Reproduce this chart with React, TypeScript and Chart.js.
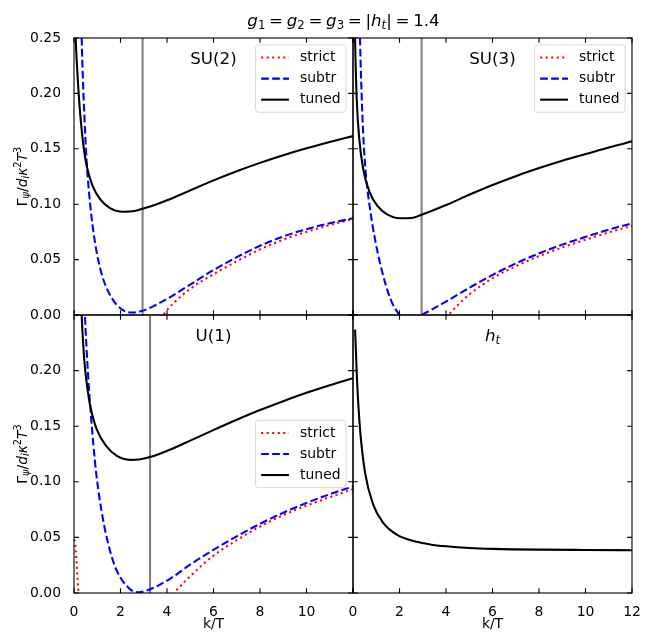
import React, { useEffect, useRef } from "react";
import { Chart, registerables } from "chart.js";
Chart.register(...registerables);

const W = 650;
const H = 641;
const FONT = '"DejaVu Sans", sans-serif';
const FS = 13.9;
const LW = 2.08;
const TICK_LEN = 4.86;
const DOT = [2.08, 3.44];
const DASH = [7.7, 3.3];

const xTicks = [0, 2, 4, 6, 8, 10, 12];
const yTicks = [0, 0.05, 0.1, 0.15, 0.2, 0.25];

// ---- SU(2) ----
const su2TunedK = [0.04, 0.07, 0.14, 0.23, 0.34, 0.45, 0.57, 0.8, 1.12, 1.55, 2.12, 2.6, 2.95, 3.5, 4.0, 5.0, 6.0, 7.0, 8.0, 9.0, 10.0, 11.0, 12.0];
const su2TunedV = [0.28, 0.252, 0.221, 0.191, 0.165, 0.146, 0.1325, 0.1165, 0.1045, 0.0965, 0.0932, 0.0938, 0.096, 0.0995, 0.1035, 0.1125, 0.1215, 0.1298, 0.1373, 0.1442, 0.1505, 0.1562, 0.1615];
const su2SubtrK = [0.31, 0.33, 0.38, 0.45, 0.54, 0.69, 0.9, 1.19, 1.62, 2.12, 2.5, 2.91, 3.4, 4.0, 5.0, 6.0, 7.0, 8.0, 9.0, 10.0, 11.0, 12.0];
const su2SubtrV = [0.28, 0.252, 0.215, 0.178, 0.14, 0.101, 0.066, 0.037, 0.0155, 0.0042, 0.0022, 0.0036, 0.0078, 0.0145, 0.0275, 0.0405, 0.0522, 0.0625, 0.0708, 0.0775, 0.0828, 0.0873];
const su2StrictK = [0, 0.05, 0.3, 3.0, 3.84, 4.27, 5.13, 6.0, 7.0, 8.0, 9.0, 10.0, 11.0, 12.0];
const su2StrictV = [0.004, -0.02, -0.3, -0.03, 0.0, 0.0105, 0.0256, 0.0368, 0.0485, 0.0592, 0.068, 0.075, 0.0812, 0.0867];
const su2Mark = 2.95;

// ---- SU(3) ----
const su3TunedK = [0.06, 0.086, 0.16, 0.27, 0.44, 0.73, 1.09, 1.45, 2.02, 2.5, 2.95, 4.03, 5.0, 6.03, 7.0, 8.04, 9.0, 10.05, 11.0, 12.0];
const su3TunedV = [0.29, 0.252, 0.195, 0.159, 0.1315, 0.11, 0.0975, 0.091, 0.0873, 0.0875, 0.0905, 0.0995, 0.1085, 0.1175, 0.1253, 0.1328, 0.1392, 0.1455, 0.1512, 0.1567];
const su3SubtrK = [0.28, 0.3, 0.37, 0.44, 0.54, 0.73, 0.95, 1.23, 1.61, 1.99, 2.5, 2.95, 3.5, 4.03, 5.0, 6.03, 7.0, 8.04, 9.0, 10.05, 11.0, 12.0];
const su3SubtrV = [0.28, 0.252, 0.2, 0.163, 0.13, 0.096, 0.068, 0.041, 0.0145, 0.0005, -0.005, 0.0, 0.0062, 0.0125, 0.0245, 0.0365, 0.0465, 0.056, 0.0635, 0.0708, 0.077, 0.0828];
const su3StrictK = [3.0, 3.6, 4.1, 4.5, 5.0, 6.03, 7.0, 8.04, 9.0, 10.05, 11.0, 12.0];
const su3StrictV = [-0.03, -0.01, 0.0, 0.0088, 0.0185, 0.0335, 0.044, 0.0535, 0.061, 0.0683, 0.0745, 0.0805];
const su3Mark = 2.95;

// ---- U(1) ----
const u1TunedK = [0.28, 0.33, 0.4, 0.47, 0.57, 0.69, 0.97, 1.4, 1.83, 2.41, 2.8, 3.27, 4.42, 5.0, 5.99, 7.0, 8.0, 9.0, 10.0, 11.0, 12.0];
const u1TunedV = [0.28, 0.25, 0.222, 0.203, 0.185, 0.169, 0.1475, 0.1318, 0.1235, 0.1197, 0.12, 0.1222, 0.1315, 0.137, 0.1465, 0.1558, 0.1645, 0.1725, 0.18, 0.1868, 0.1932];
const u1SubtrK = [0.44, 0.47, 0.54, 0.62, 0.72, 0.83, 0.97, 1.19, 1.48, 1.83, 2.41, 2.77, 3.27, 4.13, 4.99, 5.99, 7.0, 8.0, 9.0, 10.0, 11.0, 12.0];
const u1SubtrV = [0.268, 0.25, 0.22, 0.191, 0.162, 0.134, 0.105, 0.073, 0.0435, 0.0205, 0.0035, 0.0006, 0.0033, 0.0128, 0.0255, 0.0387, 0.051, 0.0622, 0.0722, 0.081, 0.0888, 0.0958];
const u1StrictK = [0.0, 0.04, 0.1, 0.19, 0.4, 3.5, 4.34, 5.13, 5.99, 7.0, 8.0, 9.0, 10.0, 11.0, 12.0];
const u1StrictV = [0.048, 0.046, 0.03, 0.0, -0.1, -0.02, 0.001, 0.0177, 0.0335, 0.0475, 0.0597, 0.07, 0.0785, 0.0862, 0.0934];
const u1Mark = 3.27;

// ---- h_t ----
const htK = [0.09, 0.17, 0.3, 0.52, 0.87, 1.3, 1.88, 2.74, 3.31, 4.02, 5.0, 6.03, 8.04, 10.0, 12.0];
const htV = [0.237, 0.193, 0.148, 0.108, 0.0795, 0.063, 0.0525, 0.046, 0.0437, 0.042, 0.0405, 0.0397, 0.039, 0.0387, 0.0385];

const legendItems = [
  { label: "strict", color: "#ff0000", dash: DOT },
  { label: "subtr", color: "#0000ff", dash: DASH },
  { label: "tuned", color: "#000000", dash: [] as number[] },
];

type Seg = { t: string; it?: boolean; sub?: boolean; sup?: boolean; sp?: number };

function segFont(s: Seg, size: number) {
  const sz = s.sub || s.sup ? size * 0.7 : size;
  return `${s.it ? "italic " : ""}${sz}px ${FONT}`;
}

function drawRich(ctx: CanvasRenderingContext2D, segs: Seg[], size: number, x: number, y: number, rot = 0) {
  ctx.save();
  ctx.translate(x, y);
  ctx.rotate(rot);
  ctx.textBaseline = "alphabetic";
  ctx.textAlign = "left";
  ctx.fillStyle = "#000";
  const ws = segs.map((s) => {
    if (s.sp !== undefined) return s.sp * size;
    ctx.font = segFont(s, size);
    return ctx.measureText(s.t).width;
  });
  const total = ws.reduce((a, b) => a + b, 0);
  let cx = -total / 2;
  segs.forEach((s, i) => {
    if (s.sp === undefined) {
      ctx.font = segFont(s, size);
      const dy = s.sub ? size * 0.2 : s.sup ? -size * 0.42 : 0;
      ctx.fillText(s.t, cx, dy);
    }
    cx += ws[i];
  });
  ctx.restore();
}

const EQ: Seg[] = [{ t: "", sp: 0.22 }, { t: "=" }, { t: "", sp: 0.22 }];
const titleSegs: Seg[] = [
  { t: "g", it: true }, { t: "1", sub: true }, ...EQ,
  { t: "g", it: true }, { t: "2", sub: true }, ...EQ,
  { t: "g", it: true }, { t: "3", sub: true }, ...EQ,
  { t: "|" }, { t: "h", it: true }, { t: "t", it: true, sub: true }, { t: "|" }, ...EQ,
  { t: "1.4" },
];
const yLabelSegs: Seg[] = [
  { t: "Γ" }, { t: "ψ", it: true, sub: true }, { t: "/" }, { t: "d", it: true }, { t: "i", it: true, sub: true },
  { t: "κ", it: true }, { t: "2", sup: true }, { t: "T", it: true }, { t: "3", sup: true },
];
const htSegs: Seg[] = [{ t: "h", it: true }, { t: "t", it: true, sub: true }];

type Series = { label: string; k: number[]; v: number[]; color: string; dash: number[]; order: number };
type PanelCfg = {
  id: string;
  label: string;
  area: { left: number; top: number; right: number; bottom: number };
  yLabels: boolean;
  xLabels: boolean;
  hideX: number[];
  hideY: number[];
  legend: "" | "upper" | "center";
  mark?: number;
  series: Series[];
  global?: boolean;
};

const three = (sk: number[], sv: number[], bk: number[], bv: number[], tk: number[], tv: number[]): Series[] => [
  { label: "strict", k: sk, v: sv, color: "#ff0000", dash: DOT, order: 2 },
  { label: "subtr", k: bk, v: bv, color: "#0000ff", dash: DASH, order: 1 },
  { label: "tuned", k: tk, v: tv, color: "#000000", dash: [], order: 0 },
];

const panels: PanelCfg[] = [
  {
    id: "su2", label: "SU(2)", area: { left: 74, top: 38, right: 353, bottom: 315 },
    yLabels: true, xLabels: false, hideX: [12], hideY: [], legend: "upper", mark: su2Mark, global: true,
    series: three(su2StrictK, su2StrictV, su2SubtrK, su2SubtrV, su2TunedK, su2TunedV),
  },
  {
    id: "su3", label: "SU(3)", area: { left: 353, top: 38, right: 632, bottom: 315 },
    yLabels: false, xLabels: false, hideX: [], hideY: [], legend: "upper", mark: su3Mark,
    series: three(su3StrictK, su3StrictV, su3SubtrK, su3SubtrV, su3TunedK, su3TunedV),
  },
  {
    id: "u1", label: "U(1)", area: { left: 74, top: 315, right: 353, bottom: 593 },
    yLabels: true, xLabels: true, hideX: [12], hideY: [0.25], legend: "center", mark: u1Mark,
    series: three(u1StrictK, u1StrictV, u1SubtrK, u1SubtrV, u1TunedK, u1TunedV),
  },
  {
    id: "ht", label: "h_t", area: { left: 353, top: 315, right: 632, bottom: 593 },
    yLabels: false, xLabels: true, hideX: [], hideY: [], legend: "",
    series: [{ label: "tuned", k: htK, v: htV, color: "#000000", dash: [], order: 0 }],
  },
];

const pts = (k: number[], v: number[]) => k.map((x, i) => ({ x, y: v[i] }));

function roundRect(ctx: CanvasRenderingContext2D, x: number, y: number, w: number, h: number, r: number) {
  ctx.beginPath();
  ctx.moveTo(x + r, y);
  ctx.lineTo(x + w - r, y);
  ctx.arcTo(x + w, y, x + w, y + r, r);
  ctx.lineTo(x + w, y + h - r);
  ctx.arcTo(x + w, y + h, x + w - r, y + h, r);
  ctx.lineTo(x + r, y + h);
  ctx.arcTo(x, y + h, x, y + h - r, r);
  ctx.lineTo(x, y + r);
  ctx.arcTo(x, y, x + r, y, r);
  ctx.closePath();
}

function decoPlugin(p: PanelCfg) {
  return {
    id: "deco_" + p.id,
    afterDraw(chart: any) {
      const ctx: CanvasRenderingContext2D = chart.ctx;
      const ca = chart.chartArea;
      const xs = chart.scales.x;
      const ys = chart.scales.y;
      ctx.save();
      ctx.strokeStyle = "#000";
      ctx.lineWidth = 1.11;
      ctx.setLineDash([]);
      ctx.beginPath();
      xTicks.forEach((v) => {
        const px = xs.getPixelForValue(v);
        ctx.moveTo(px, ca.bottom);
        ctx.lineTo(px, ca.bottom - TICK_LEN);
        ctx.moveTo(px, ca.top);
        ctx.lineTo(px, ca.top + TICK_LEN);
      });
      yTicks.forEach((v) => {
        const py = ys.getPixelForValue(v);
        ctx.moveTo(ca.left, py);
        ctx.lineTo(ca.left + TICK_LEN, py);
        ctx.moveTo(ca.right, py);
        ctx.lineTo(ca.right - TICK_LEN, py);
      });
      ctx.stroke();
      ctx.strokeRect(ca.left, ca.top, ca.right - ca.left, ca.bottom - ca.top);

      if (p.legend) {
        const bp = 0.4 * FS, ls = 0.5 * FS, hl = 2 * FS, htp = 0.8 * FS, bap = 0.5 * FS;
        const rowH = 14.1;
        ctx.font = `${FS}px ${FONT}`;
        const tw = Math.max(...legendItems.map((i) => ctx.measureText(i.label).width));
        const w = 2 * bp + hl + htp + tw;
        const h = 2 * bp + legendItems.length * rowH + (legendItems.length - 1) * ls;
        const right = ca.right - bap;
        const left = right - w;
        const top = p.legend === "upper" ? ca.top + bap : (ca.top + ca.bottom) / 2 - h / 2;
        roundRect(ctx, left, top, w, h, 2.8);
        ctx.fillStyle = "rgba(255,255,255,0.8)";
        ctx.fill();
        ctx.strokeStyle = "rgba(204,204,204,0.8)";
        ctx.lineWidth = 1;
        ctx.stroke();
        legendItems.forEach((it, i) => {
          const cy = top + bp + rowH / 2 + i * (rowH + ls);
          ctx.beginPath();
          ctx.strokeStyle = it.color;
          ctx.lineWidth = LW;
          ctx.lineCap = "butt";
          ctx.setLineDash(it.dash);
          ctx.moveTo(left + bp, cy);
          ctx.lineTo(left + bp + hl, cy);
          ctx.stroke();
          ctx.setLineDash([]);
          ctx.fillStyle = "#000";
          ctx.font = `${FS}px ${FONT}`;
          ctx.textAlign = "left";
          ctx.textBaseline = "middle";
          ctx.fillText(it.label, left + bp + hl + htp, cy);
        });
      }

      const cx = (ca.left + ca.right) / 2;
      if (p.label === "h_t") {
        drawRich(ctx, htSegs, 16.7, cx, ca.top + 25.7);
      } else {
        ctx.fillStyle = "#000";
        ctx.font = `16.7px ${FONT}`;
        ctx.textAlign = "center";
        ctx.textBaseline = "alphabetic";
        ctx.fillText(p.label, cx, ca.top + 26);
      }

      if (p.xLabels) {
        ctx.fillStyle = "#000";
        ctx.font = `${FS}px ${FONT}`;
        ctx.textAlign = "center";
        ctx.textBaseline = "alphabetic";
        ctx.fillText("k/T", cx, ca.bottom + 35);
      }

      if (p.yLabels) {
        drawRich(ctx, yLabelSegs, FS, 26.5, (ca.top + ca.bottom) / 2, -Math.PI / 2);
      }

      if (p.global) {
        drawRich(ctx, titleSegs, 16.7, 343.5, 26);
      }
      ctx.restore();
    },
  };
}

function buildConfig(p: PanelCfg): any {
  const datasets: any[] = p.series.map((s) => ({
    label: s.label,
    data: pts(s.k, s.v),
    borderColor: s.color,
    borderWidth: LW,
    borderDash: s.dash,
    borderCapStyle: "butt",
    pointRadius: 0,
    fill: false,
    cubicInterpolationMode: "monotone",
    order: s.order,
  }));
  if (p.mark !== undefined) {
    datasets.push({
      label: "mark",
      data: [{ x: p.mark, y: -1 }, { x: p.mark, y: 1 }],
      borderColor: "#808080",
      borderWidth: LW,
      pointRadius: 0,
      tension: 0,
      fill: false,
      order: 10,
    });
  }
  const a = p.area;
  const yW = p.yLabels ? a.left : 0;
  return {
    type: "line",
    data: { datasets },
    options: {
      responsive: false,
      maintainAspectRatio: false,
      animation: false,
      devicePixelRatio: 1,
      events: [],
      layout: {
        padding: {
          left: a.left - yW,
          right: W - a.right,
          top: a.top,
          bottom: H - a.bottom - (p.xLabels ? 30 : 0),
        },
      },
      plugins: { legend: { display: false }, tooltip: { enabled: false }, title: { display: false } },
      scales: {
        x: {
          type: "linear",
          position: "bottom",
          min: 0,
          max: 12,
          afterBuildTicks: (sc: any) => {
            sc.ticks = xTicks.map((v) => ({ value: v }));
          },
          afterFit: (sc: any) => {
            sc.height = p.xLabels ? 30 : 0;
          },
          grid: { display: false },
          border: { display: false },
          ticks: {
            display: p.xLabels,
            color: "#000",
            font: { family: FONT, size: FS },
            padding: 3,
            maxRotation: 0,
            autoSkip: false,
            callback: (v: number) => (p.hideX.includes(v) ? "" : String(v)),
          },
        },
        y: {
          type: "linear",
          position: "left",
          min: 0,
          max: 0.25,
          afterBuildTicks: (sc: any) => {
            sc.ticks = yTicks.map((v) => ({ value: v }));
          },
          afterFit: (sc: any) => {
            sc.width = yW;
          },
          grid: { display: false },
          border: { display: false },
          ticks: {
            display: p.yLabels,
            color: "#000",
            font: { family: FONT, size: FS },
            padding: 5,
            autoSkip: false,
            callback: (v: number) => (p.hideY.some((h) => Math.abs(h - v) < 1e-9) ? "" : v.toFixed(2)),
          },
        },
      },
    },
    plugins: [decoPlugin(p)],
  };
}

function Panel({ cfg }: { cfg: PanelCfg }) {
  const ref = useRef<HTMLCanvasElement>(null);
  useEffect(() => {
    const chart = new Chart(ref.current as HTMLCanvasElement, buildConfig(cfg));
    return () => chart.destroy();
  }, [cfg]);
  return (
    <canvas
      ref={ref}
      width={W}
      height={H}
      style={{ position: "absolute", left: 0, top: 0, width: W, height: H }}
    />
  );
}

export default function App() {
  return (
    <div style={{ position: "absolute", left: 0, top: 0, width: W, height: H, background: "#fff" }}>
      {panels.map((p) => (
        <Panel key={p.id} cfg={p} />
      ))}
    </div>
  );
}
